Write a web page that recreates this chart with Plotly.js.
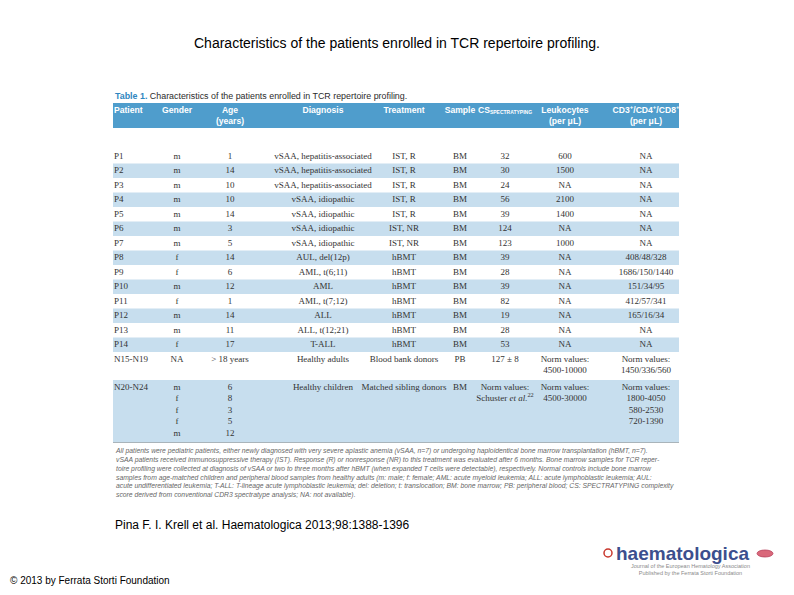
<!DOCTYPE html>
<html><head><meta charset="utf-8">
<script src="https://cdn.plot.ly/plotly-3.0.1.min.js"></script>
<style>html,body{margin:0;padding:0;background:#fff}</style>
</head><body>
<div id="chart" style="width:794px;height:595px"></div>
<script>
// ---------- data ----------
const headers = ["Patient","Gender","Age<br>(years)","Diagnosis","Treatment","Sample",
  "CS<sub><span style='font-size:5px'>SPECTRATYPING</span></sub>","Leukocytes<br>(per μL)",
  "CD3<sup>+</sup>/CD4<sup>+</sup>/CD8<sup>+</sup><br>(per μL)"];
const patient = ["P1","P2","P3","P4","P5","P6","P7","P8","P9","P10","P11","P12","P13","P14","N15-N19","N20-N24"];
const gender = ["m","m","m","m","m","m","m","f","f","m","f","m","m","f","NA","m<br>f<br>f<br>f<br>m"];
const age = ["1","14","10","10","14","3","5","14","6","12","1","14","11","17","> 18 years","6<br>8<br>3<br>5<br>12"];
const diagnosis = ["vSAA, hepatitis-associated","vSAA, hepatitis-associated","vSAA, hepatitis-associated",
  "vSAA, idiopathic","vSAA, idiopathic","vSAA, idiopathic","vSAA, idiopathic",
  "AUL, del(12p)","AML, t(6;11)","AML","AML, t(7;12)","ALL","ALL, t(12;21)","T-ALL",
  "Healthy adults","Healthy children"];
const treatment = ["IST, R","IST, R","IST, R","IST, R","IST, R","IST, NR","IST, NR",
  "hBMT","hBMT","hBMT","hBMT","hBMT","hBMT","hBMT","Blood bank donors","Matched sibling donors"];
const sample = ["BM","BM","BM","BM","BM","BM","BM","BM","BM","BM","BM","BM","BM","BM","PB","BM"];
const cs = ["32","30","24","56","39","124","123","39","28","39","82","19","28","53","127 ± 8",
  "Norm values:<br>Schuster <i>et al.</i><sup>22</sup>"];
const leukocytes = ["600","1500","NA","2100","1400","NA","1000","NA","NA","NA","NA","NA","NA","NA",
  "Norm values:<br>4500-10000","Norm values:<br>4500-30000"];
const cd3 = ["NA","NA","NA","NA","NA","NA","NA","408/48/328","1686/150/1440","151/34/95","412/57/341",
  "165/16/34","NA","NA","Norm values:<br>1450/336/560","Norm values:<br>1800-4050<br>580-2530<br>720-1390"];
const shadedRows = ["P2","P4","P6","P8","P10","P12","P14","N20-N24"];

const footnote = [
 "All patients were pediatric patients, either newly diagnosed with very severe aplastic anemia (vSAA, n=7) or undergoing haploidentical bone marrow transplantation (hBMT, n=7).",
 "vSAA patients received immunosuppressive therapy (IST). Response (R) or nonresponse (NR) to this treatment was evaluated after 6 months. Bone marrow samples for TCR reper-",
 "toire profiling were collected at diagnosis of vSAA or two to three months after hBMT (when expanded T cells were detectable), respectively. Normal controls include bone marrow",
 "samples from age-matched children and peripheral blood samples from healthy adults (m: male; f: female; AML: acute myeloid leukemia; ALL: acute lymphoblastic leukemia; AUL:",
 "acute undifferentiated leukemia; T-ALL: T-lineage acute lymphoblastic leukemia; del: deletion; t: translocation; BM: bone marrow; PB: peripheral blood; CS: SPECTRATYPING complexity",
 "score derived from conventional CDR3 spectratype analysis; NA: not available)."
];

// ---------- layout config (pixel geometry) ----------
const columns = [patient, gender, age, diagnosis, treatment, sample, cs, leukocytes, cd3];
const colX = [114, 177, 230, 323, 404, 460, 505, 565, 646];
const colAnchor = ["left","center","center","center","center","center","center","center","center"];
const tableL = 113, tableR = 679;
const headTop = 103, headBot = 128, headLine1 = 110.5, headLine2 = 122;
const bodyTop = 149, rowH = 14.5, lineH = 11.5;
const bodyFont = "Liberation Serif", headFont = "Liberation Sans";
const bodyColor = "#333333", headBand = "#4f9dcc", stripe = "#c7deee";

// row geometry
const nLines = patient.map((_, r) => Math.max(...columns.map(c => String(c[r]).split("<br>").length)));
const rowTops = []; let yy = bodyTop;
nLines.forEach(n => { rowTops.push(yy); yy += rowH + (n - 1) * lineH + (n > 1 ? 2 : 0); });
const tableBottom = yy;

const traces = [];
// header
const hx = [], hy = [], ht = [], hpos = [];
headers.forEach((h, c) => {
  const parts = h.split("<br>");
  parts.forEach((p, k) => {
    hx.push(colX[c]); hy.push(k === 0 ? headLine1 : headLine2); ht.push("<b>" + p + "</b>");
    hpos.push(colAnchor[c] === "left" ? "middle right" : "middle center");
  });
});
traces.push({type: "scatter", mode: "text", x: hx, y: hy, text: ht, textposition: hpos,
  textfont: {family: headFont, size: 8.6, color: "#ffffff"}, hoverinfo: "skip", showlegend: false, cliponaxis: false});

// body columns
columns.forEach((col, c) => {
  const x = [], y = [], t = [];
  col.forEach((v, r) => {
    String(v).split("<br>").forEach((p, k) => {
      x.push(colX[c]); y.push(rowTops[r] + rowH / 2 + k * lineH); t.push(p);
    });
  });
  traces.push({type: "scatter", mode: "text", x: x, y: y, text: t,
    textposition: colAnchor[c] === "left" ? "middle right" : "middle center",
    textfont: {family: bodyFont, size: 9, color: bodyColor}, hoverinfo: "skip", showlegend: false, cliponaxis: false});
});

const shapes = [];
shapes.push({type: "rect", xref: "x", yref: "y", x0: tableL, x1: tableR, y0: headTop, y1: headBot,
  fillcolor: headBand, line: {width: 0}, layer: "below"});
patient.forEach((p, r) => {
  if (shadedRows.includes(p)) {
    const h = rowH + (nLines[r] - 1) * lineH + (nLines[r] > 1 ? 2 : 0);
    shapes.push({type: "rect", xref: "x", yref: "y", x0: tableL, x1: tableR, y0: rowTops[r], y1: rowTops[r] + h,
      fillcolor: stripe, line: {width: 0}, layer: "below"});
  }
});
shapes.push({type: "line", xref: "x", yref: "y", x0: tableL, x1: tableR, y0: tableBottom, y1: tableBottom,
  line: {color: "#9aa4ab", width: 0.8}});
// logo decorations
shapes.push({type: "circle", xref: "x", yref: "y", x0: 604, x1: 612, y0: 549, y1: 557,
  fillcolor: "#ffffff", line: {color: "#c8372d", width: 1.5}});
shapes.push({type: "circle", xref: "x", yref: "y", x0: 757, x1: 773, y0: 550, y1: 557,
  fillcolor: "#d9687a", line: {color: "#b8405a", width: 0.8}});

const annotations = [
  {text: "Characteristics of the patients enrolled in TCR repertoire profiling.", x: 397, y: 43,
   xref: "x", yref: "y", showarrow: false, xanchor: "center", yanchor: "middle",
   font: {family: "Liberation Sans", size: 14, color: "#000"}},
  {text: "<span style='color:#2f86c0'><b>Table 1.</b></span> Characteristics of the patients enrolled in TCR repertoire profiling.",
   x: 113, y: 96, xref: "x", yref: "y", showarrow: false, xanchor: "left", yanchor: "middle",
   font: {family: "Liberation Sans", size: 8.9, color: "#2b2b2b"}},
  {text: footnote.map(s => "<i>" + s + "</i>").join("<br>"), x: 113, y: 445, xref: "x", yref: "y",
   showarrow: false, xanchor: "left", yanchor: "top", align: "left",
   font: {family: "Liberation Sans", size: 6.8, color: "#666"}},
  {text: "Pina F. I. Krell et al. Haematologica 2013;98:1388-1396", x: 113, y: 525, xref: "x", yref: "y",
   showarrow: false, xanchor: "left", yanchor: "middle", font: {family: "Liberation Sans", size: 12, color: "#000"}},
  {text: "© 2013 by Ferrata Storti Foundation", x: 8, y: 580, xref: "x", yref: "y",
   showarrow: false, xanchor: "left", yanchor: "middle", font: {family: "Liberation Sans", size: 10, color: "#000"}},
  {text: "<b>haematologica</b>", x: 614, y: 553, xref: "x", yref: "y", showarrow: false,
   xanchor: "left", yanchor: "middle", font: {family: "Liberation Sans", size: 19, color: "#3c4f8e"}},
  {text: "Journal of the European Hematology Association<br>Published by the Ferrata Storti Foundation",
   x: 690, y: 569, xref: "x", yref: "y", showarrow: false, xanchor: "center", yanchor: "middle", align: "center",
   font: {family: "Liberation Sans", size: 5.5, color: "#8a8a8a"}}
];

const layout = {
  width: 794, height: 595, margin: {l: 0, r: 0, t: 0, b: 0},
  paper_bgcolor: "#ffffff", plot_bgcolor: "#ffffff",
  xaxis: {range: [0, 794], visible: false, fixedrange: true},
  yaxis: {range: [595, 0], visible: false, fixedrange: true},
  shapes: shapes, annotations: annotations, showlegend: false
};
Plotly.newPlot("chart", traces, layout, {displayModeBar: false, staticPlot: true});
</script>
</body></html>
